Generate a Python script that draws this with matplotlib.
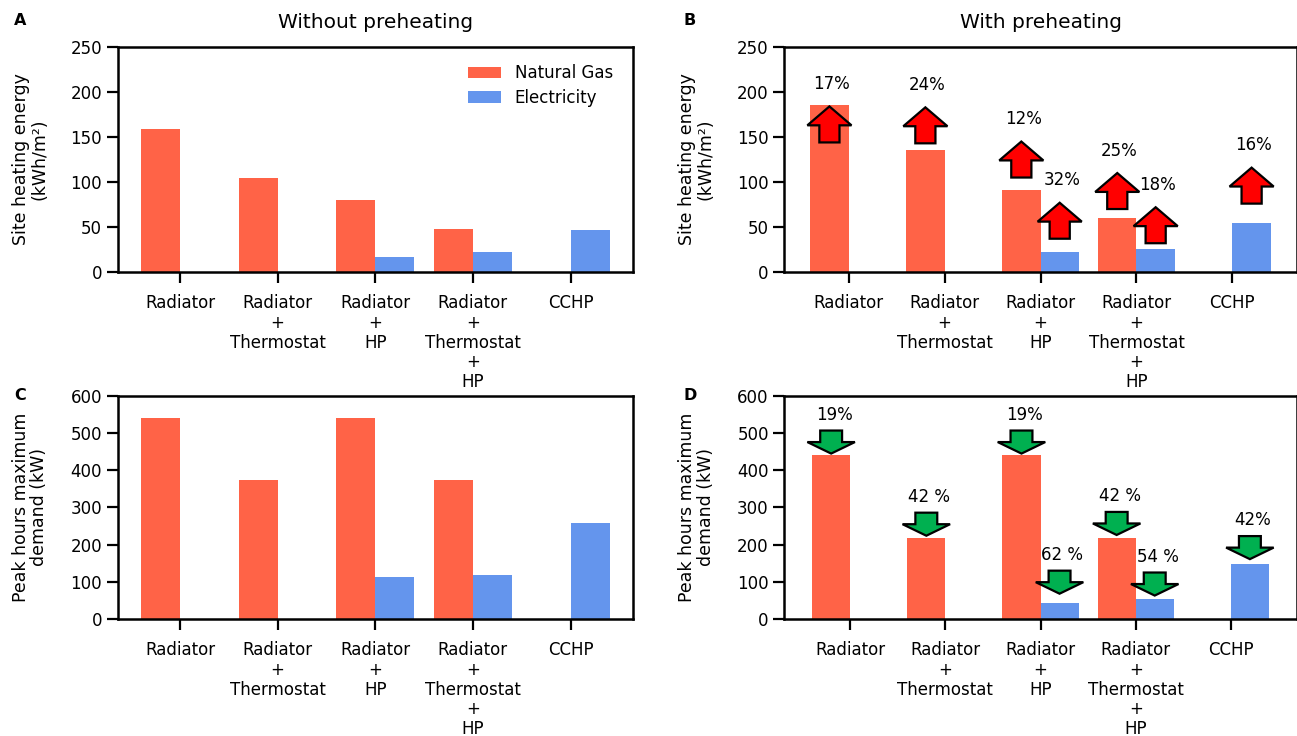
import matplotlib
matplotlib.use("Agg")
import matplotlib.pyplot as plt
import numpy as np

plt.rcParams['font.family'] = ['DejaVu Sans']

categories = ["Radiator", "Radiator\n+\nThermostat", "Radiator\n+\nHP",
              "Radiator\n+\nThermostat\n+\nHP", "CCHP"]

# Panel A: without preheating, site heating energy (kWh/m2)
gas_A = [159, 104, 80, 48, 0]
elec_A = [0, 0, 17, 22, 47]
# Panel B: with preheating
gas_B = [186, 136, 91, 60, 0]
elec_B = [0, 0, 22, 26, 55]
# Panel C: without preheating, peak demand (kW)
gas_C = [542, 375, 542, 375, 0]
elec_C = [0, 0, 112, 118, 257]
# Panel D: with preheating
gas_D = [440, 218, 440, 218, 0]
elec_D = [0, 0, 42, 55, 147]

# Annotations: (group index, series) for arrows in B and D
arrow_targets = [(0, "gas"), (1, "gas"), (2, "gas"), (2, "elec"),
                 (3, "gas"), (3, "elec"), (4, "elec")]
pct_B = ["17%", "24%", "12%", "32%", "25%", "18%", "16%"]
pct_D = ["19%", "42 %", "19%", "62 %", "42 %", "54 %", "42%"]
# arrow base offsets relative to bar tops (B, upward arrows)
base_off_B = [-42, 7, 14, 15, 10, 6, 21]
# arrow tip gaps above bar tops (D, downward arrows)
tip_off_D = [5, 6, 5, 26, 8, 8, 14]

GAS = "#FF6347"
ELEC = "#6495ED"
W = 0.4

fig = plt.figure(figsize=(12.97, 7.36), dpi=100)
axA = fig.add_axes([0.0906, 0.6304, 0.3975, 0.3057])
axB = fig.add_axes([0.6045, 0.6304, 0.3955, 0.3057])
axC = fig.add_axes([0.0906, 0.159, 0.3975, 0.303])
axD = fig.add_axes([0.6045, 0.159, 0.3955, 0.303])

x = np.arange(len(categories))


def draw(ax, gas, elec, ylim, yticks, ylabel):
    ax.bar(x - W / 2, gas, W, color=GAS, label="Natural Gas")
    ax.bar(x + W / 2, elec, W, color=ELEC, label="Electricity")
    ax.set_ylim(*ylim)
    ax.set_yticks(yticks)
    ax.set_xticks(x)
    ax.set_xticklabels(categories, fontsize=12, linespacing=1.12)
    ax.tick_params(axis='y', labelsize=12, length=8, width=1.6, pad=3)
    ax.tick_params(axis='x', length=8, width=1.6, pad=8)
    for s in ax.spines.values():
        s.set_linewidth(1.8)
    ax.set_ylabel(ylabel, fontsize=12.5, linespacing=1.05, labelpad=16)


draw(axA, gas_A, elec_A, (0, 250), range(0, 251, 50), "Site heating energy\n(kWh/m²)")
draw(axB, gas_B, elec_B, (0, 250), range(0, 251, 50), "Site heating energy\n(kWh/m²)")
draw(axC, gas_C, elec_C, (0, 600), range(0, 601, 100), "Peak hours maximum\ndemand (kW)")
draw(axD, gas_D, elec_D, (0, 600), range(0, 601, 100), "Peak hours maximum\ndemand (kW)")

axA.set_title("Without preheating", fontsize=14.5, pad=14)
axB.set_title("With preheating", fontsize=14.5, pad=14)

axA.legend(loc="upper right", frameon=False, fontsize=12, handlelength=2.0,
           labelspacing=0.4, bbox_to_anchor=(0.99, 0.99))

for lbl, (px, py) in zip("ABCD", [(0.011, 0.972), (0.527, 0.972), (0.011, 0.462), (0.527, 0.462)]):
    fig.text(px, py, lbl, fontsize=11.5, fontweight="bold", va="center", ha="left")


def bar_pos(i, series, gas, elec):
    if series == "gas":
        return x[i] - W / 2, gas[i]
    return x[i] + W / 2, elec[i]


# Up arrows in B
for (i, s), lab, off in zip(arrow_targets, pct_B, base_off_B):
    bx, top = bar_pos(i, s, gas_B, elec_B)
    base = top + off
    axB.arrow(bx, base, 0, 40, width=0.21, head_width=0.46, head_length=21,
              length_includes_head=True, facecolor="#FF0000", edgecolor="black",
              linewidth=1.6, zorder=5)
    axB.text(bx + 0.02, base + 40 + 25, lab, fontsize=12, ha="center", va="center")

# Down arrows in D
for (i, s), lab, off in zip(arrow_targets, pct_D, tip_off_D):
    bx, top = bar_pos(i, s, gas_D, elec_D)
    tip = top + off
    axD.arrow(bx, tip + 62, 0, -62, width=0.23, head_width=0.5, head_length=31,
              length_includes_head=True, facecolor="#00B050", edgecolor="black",
              linewidth=1.6, zorder=5)
    axD.text(bx + 0.03, tip + 62 + 42, lab, fontsize=12, ha="center", va="center")

fig.savefig("out.png", dpi=100)
